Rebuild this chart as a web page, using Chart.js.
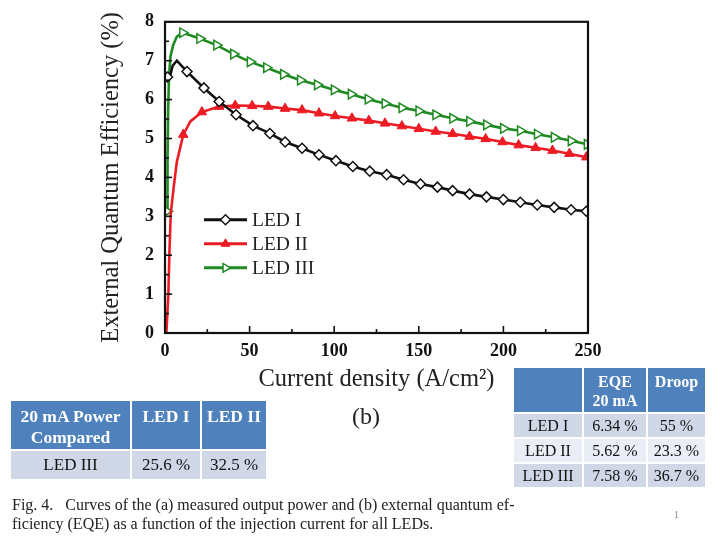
<!DOCTYPE html>
<html>
<head>
<meta charset="utf-8">
<script src="https://cdn.jsdelivr.net/npm/chart.js@4.4.1/dist/chart.umd.min.js"></script>
<style>
  body { margin: 0; background: #fff; }
  #wrap { position: relative; width: 720px; height: 540px; overflow: hidden; }
  #chart { position: absolute; left: 0; top: 0; }
  .tbl { position: absolute; border-collapse: collapse; font-family: 'Liberation Serif', 'Times New Roman', serif; }
  .tbl td { border: 2px solid #fff; text-align: center; color: #111; font-size: 16px; padding: 0; }
  .tbl td.h { background: #4f81bd; color: #fff; font-weight: bold; font-size: 16px; vertical-align: top; line-height: 19px; padding-top: 4px; }
  .tbl td.a { background: #d0d8e8; }
  .tbl td.b { background: #e9edf4; }
  #left td.h { font-size: 17.5px; line-height: 21px; padding-top: 5px; }
  #left td.a { font-size: 17px; }
  #cap { position: absolute; left: 12px; top: 495px; font: 16px 'Liberation Serif', serif; color: #222; line-height: 19px; white-space: pre; }
  #pg { position: absolute; left: 674px; top: 509px; font: 10px 'Liberation Serif', serif; color: #888; }
  #lbl { position: absolute; left: 352px; top: 403px; font: 24px 'Liberation Serif', serif; color: #222; }
</style>
</head>
<body>
<div id="wrap">
  <canvas id="chart" width="720" height="540"></canvas>

  <table class="tbl" id="left" style="left:9px; top:399px; width:259px;">
    <tr style="height:50px;">
      <td class="h" style="width:119px;">20 mA Power<br>Compared</td>
      <td class="h" style="width:68px;">LED I</td>
      <td class="h">LED II</td>
    </tr>
    <tr style="height:30px;">
      <td class="a">LED III</td><td class="a">25.6 %</td><td class="a">32.5 %</td>
    </tr>
  </table>

  <table class="tbl" style="left:512px; top:366px; width:195px;">
    <tr style="height:46px;">
      <td class="h" style="width:68px;"></td>
      <td class="h" style="width:62px;">EQE<br>20 mA</td>
      <td class="h">Droop</td>
    </tr>
    <tr style="height:25px;"><td class="a">LED I</td><td class="a">6.34 %</td><td class="a">55 %</td></tr>
    <tr style="height:25px;"><td class="b">LED II</td><td class="b">5.62 %</td><td class="b">23.3 %</td></tr>
    <tr style="height:25px;"><td class="a">LED III</td><td class="a">7.58 %</td><td class="a">36.7 %</td></tr>
  </table>

  <div id="lbl">(b)</div>
  <div id="cap">Fig. 4.   Curves of the (a) measured output power and (b) external quantum ef-
ficiency (EQE) as a function of the injection current for all LEDs.</div>
  <div id="pg">1</div>
</div>

<script>
// ---- data ----
const seriesNames = ["LED I", "LED II", "LED III"];

const ledIX = [1.5, 3, 4.5, 7, 13, 23, 32, 42, 52, 62, 71, 81, 91, 101, 111, 121, 131, 141, 151, 161, 170, 180, 190, 200, 210, 220, 230, 240, 249];
const ledIY = [6.58, 6.6, 6.87, 7.0, 6.72, 6.3, 5.95, 5.61, 5.33, 5.13, 4.91, 4.75, 4.58, 4.43, 4.28, 4.16, 4.07, 3.94, 3.83, 3.75, 3.66, 3.57, 3.5, 3.43, 3.36, 3.29, 3.23, 3.17, 3.13];

const ledIIX = [0.8, 2.0, 2.6, 3.4, 5, 7, 10.8, 15, 21.8, 32, 41.5, 51.5, 61, 71, 81, 91, 100.5, 110.5, 120.5, 130, 140, 150, 160, 170, 180, 189.5, 199.5, 209, 219, 229, 239, 249];
const ledIIY = [0, 1.02, 2.05, 3.07, 3.7, 4.4, 5.1, 5.44, 5.68, 5.82, 5.85, 5.84, 5.82, 5.77, 5.73, 5.65, 5.58, 5.52, 5.46, 5.39, 5.32, 5.25, 5.18, 5.12, 5.05, 4.99, 4.91, 4.83, 4.76, 4.69, 4.61, 4.52];

const ledIIIX = [1.2, 1.5, 1.9, 2.4, 3.2, 4.8, 7, 10.4, 20.5, 30.5, 40.5, 50.3, 60, 70, 80, 90, 100, 110, 120, 130, 140, 150, 160, 170, 180, 190, 200, 210, 220, 230, 240, 249.5];
const ledIIIY = [3.13, 4.5, 5.8, 6.6, 7.1, 7.4, 7.62, 7.72, 7.57, 7.4, 7.17, 6.97, 6.82, 6.65, 6.5, 6.38, 6.25, 6.14, 6.01, 5.9, 5.79, 5.71, 5.61, 5.52, 5.44, 5.35, 5.26, 5.2, 5.11, 5.03, 4.94, 4.85];

// which points carry a marker (1) and which are only line (0)
const ledIMark   = [1, 0, 0, 0, 1, 1, 1, 1, 1, 1, 1, 1, 1, 1, 1, 1, 1, 1, 1, 1, 1, 1, 1, 1, 1, 1, 1, 1, 1];
const ledIIMark  = [0, 0, 0, 0, 0, 0, 1, 0, 1, 1, 1, 1, 1, 1, 1, 1, 1, 1, 1, 1, 1, 1, 1, 1, 1, 1, 1, 1, 1, 1, 1, 1];
const ledIIIMark = [1, 0, 0, 0, 0, 0, 0, 1, 1, 1, 1, 1, 1, 1, 1, 1, 1, 1, 1, 1, 1, 1, 1, 1, 1, 1, 1, 1, 1, 1, 1, 1];

const xTicks = [0, 50, 100, 150, 200, 250];
const yTicks = [0, 1, 2, 3, 4, 5, 6, 7, 8];

const SERIF = "'Liberation Serif', 'Times New Roman', serif";

function pts(xs, ys){
    return xs.map((v, i) => ({ x: v, y: ys[i] }));
}

/* ===== frame, inward ticks and legend ===== */
const frameLegend = {
    id: "frameLegend",
    afterDraw(chart){
        const { ctx, chartArea: a, scales } = chart;
        const sx = scales.x, sy = scales.y;
        ctx.save();
        ctx.strokeStyle = "#111";
        ctx.lineWidth = 2.2;
        ctx.strokeRect(a.left, a.top, a.right - a.left, a.bottom - a.top);

        // ticks pointing into the plot
        ctx.lineWidth = 1.6;
        for(let v = 0; v <= 250; v += 25){
            const px = sx.getPixelForValue(v);
            const len = (v % 50 === 0) ? 7 : 4;
            ctx.beginPath(); ctx.moveTo(px, a.bottom); ctx.lineTo(px, a.bottom - len); ctx.stroke();
        }
        for(let v = 0; v <= 8; v += 0.5){
            const py = sy.getPixelForValue(v);
            const len = (v % 1 === 0) ? 7 : 4;
            ctx.beginPath(); ctx.moveTo(a.left, py); ctx.lineTo(a.left + len, py); ctx.stroke();
        }

        // legend
        chart.data.datasets.forEach((ds, i) => {
            const x0 = a.left + 39, x1 = a.left + 82;
            const yy = a.top + 198 + i * 24;
            ctx.strokeStyle = ds.borderColor;
            ctx.lineWidth = 3;
            ctx.beginPath(); ctx.moveTo(x0, yy); ctx.lineTo(x1, yy); ctx.stroke();
            ctx.fillStyle = ds.pointBackgroundColor;
            ctx.strokeStyle = ds.borderColor;
            ctx.lineWidth = ds.pointBorderWidth;
            Chart.helpers.drawPoint(ctx, {
                pointStyle: ds.pointStyle, radius: 5,
                rotation: ds.pointRotation || 0, borderWidth: ds.pointBorderWidth
            }, (x0 + x1) / 2, yy);
            ctx.fillStyle = "#222";
            ctx.font = "19.5px " + SERIF;
            ctx.textBaseline = "middle";
            ctx.fillText(ds.label, x1 + 5, yy + 1);
        });
        ctx.restore();
    }
};

new Chart(document.getElementById("chart"), {
    type: "line",
    data: {
        datasets: [
            {
                label: seriesNames[0],
                data: pts(ledIX, ledIY),
                borderColor: "#111111",
                borderWidth: 2.6,
                pointStyle: "rectRot",
                pointRadius: ledIMark.map(m => m ? 5 : 0),
                pointBackgroundColor: "#ffffff",
                pointBorderColor: "#111111",
                pointBorderWidth: 1.5
            },
            {
                label: seriesNames[1],
                data: pts(ledIIX, ledIIY),
                borderColor: "#ec1c24",
                borderWidth: 2.6,
                pointStyle: "triangle",
                pointRadius: ledIIMark.map(m => m ? 5.5 : 0),
                pointBackgroundColor: "#ec1c24",
                pointBorderColor: "#ec1c24",
                pointBorderWidth: 1
            },
            {
                label: seriesNames[2],
                data: pts(ledIIIX, ledIIIY),
                borderColor: "#1f8a22",
                borderWidth: 2.6,
                pointStyle: "triangle",
                pointRotation: 90,
                pointRadius: ledIIIMark.map(m => m ? 5.5 : 0),
                pointBackgroundColor: "#ffffff",
                pointBorderColor: "#1f8a22",
                pointBorderWidth: 1.5
            }
        ]
    },
    options: {
        responsive: false,
        animation: false,
        layout: { padding: { left: 0, right: 132, top: 21, bottom: 0 } },
        plugins: { legend: { display: false }, tooltip: { enabled: false } },
        elements: { line: { tension: 0 } },
        scales: {
            x: {
                type: "linear", min: 0, max: 250,
                afterBuildTicks: s => { s.ticks = xTicks.map(v => ({ value: v })); },
                afterFit: s => { s.height = 207; },
                grid: { display: false, drawTicks: false },
                border: { display: false },
                ticks: { padding: 8, color: "#111", font: { family: SERIF, size: 18, weight: "bold" } },
                title: {
                    display: true, text: "Current density (A/cm²)", color: "#222",
                    font: { family: SERIF, size: 24.5 }, padding: { top: 0, bottom: 145.5 }
                }
            },
            y: {
                type: "linear", min: 0, max: 8,
                afterBuildTicks: s => { s.ticks = yTicks.map(v => ({ value: v })); },
                afterFit: s => { s.width = 165; },
                grid: { display: false, drawTicks: false },
                border: { display: false },
                ticks: { padding: 11, color: "#111", font: { family: SERIF, size: 18, weight: "bold" } },
                title: {
                    display: true, text: "External Quantum Efficiency (%)", color: "#222",
                    font: { family: SERIF, size: 24.5 }, padding: { top: 97, bottom: 0 }
                }
            }
        }
    },
    plugins: [frameLegend]
});
</script>
</body>
</html>
